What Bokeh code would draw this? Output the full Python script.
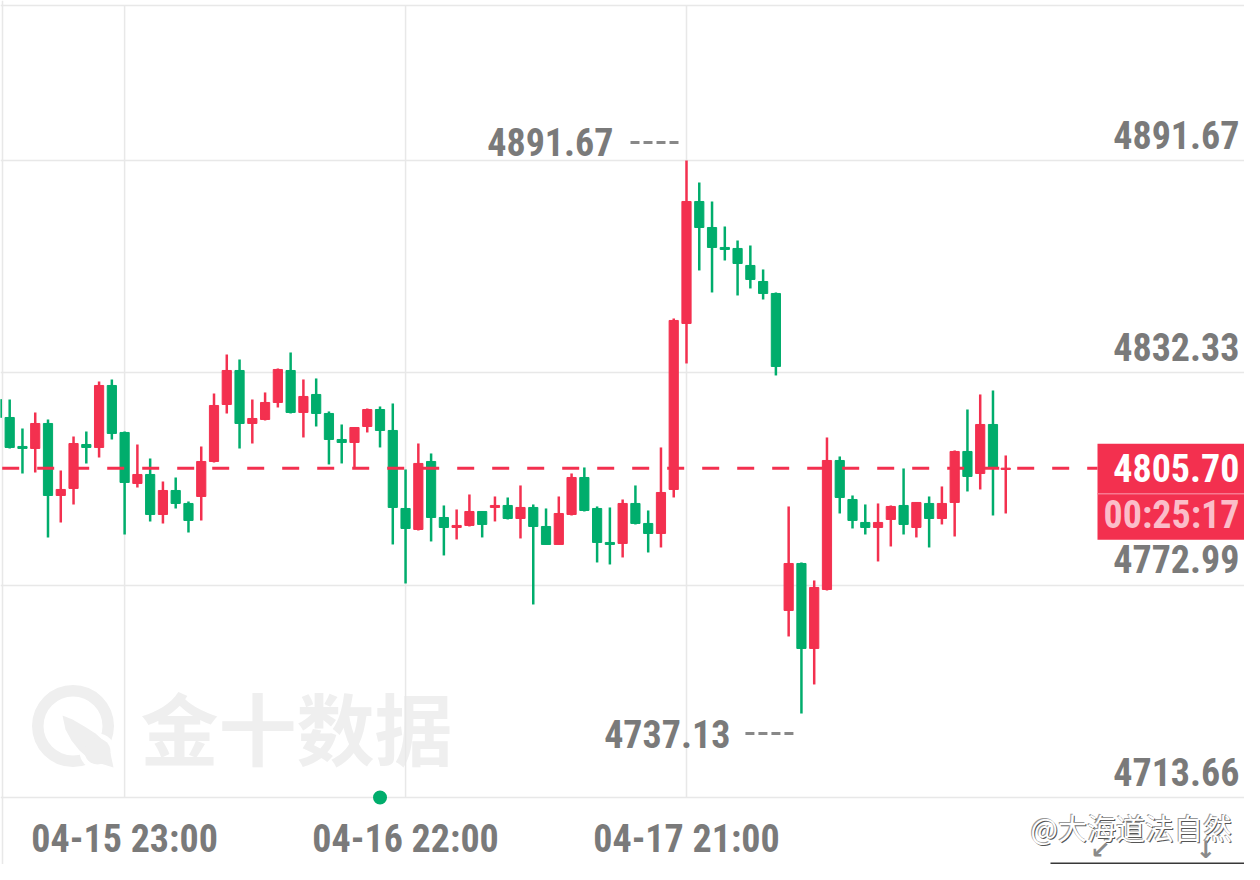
from bokeh.plotting import figure
from bokeh.models import ColumnDataSource
from bokeh.core.properties import value
from bokeh.embed import file_html
from bokeh.resources import INLINE

# ---------------- data (hourly candles, index -1 .. 78) ----------------
first_index = -1
opens = [4824.89, 4819.86, 4811.76, 4811.20, 4818.18, 4798.06, 4800.02, 4812.31, 4811.48, 4828.80,
         4815.67, 4801.42, 4803.93, 4792.75, 4799.46, 4795.83, 4797.78, 4807.56, 4823.49, 4832.99,
         4818.18, 4819.30, 4824.05, 4832.99, 4821.26, 4826.29, 4820.98, 4813.71, 4812.87, 4817.34,
         4822.09, 4816.23, 4794.43, 4788.56, 4807.56, 4791.91, 4789.12, 4789.68, 4793.59, 4794.71,
         4795.27, 4791.63, 4794.71, 4789.40, 4784.37, 4792.75, 4803.09, 4794.43, 4784.93, 4784.65,
         4795.83, 4790.24, 4787.44, 4799.74, 4846.13, 4880.22, 4872.95, 4867.37, 4867.09, 4862.34,
         4857.86, 4854.51, 4765.93, 4779.06, 4755.31, 4771.79, 4807.84, 4796.94, 4790.52, 4789.12,
         4791.36, 4795.27, 4789.12, 4795.83, 4791.63, 4796.11, 4810.36, 4804.21, 4817.90, 4805.33]
highs = [4826.01, 4824.89, 4816.79, 4821.26, 4819.30, 4805.05, 4814.55, 4815.95, 4829.92, 4830.48,
         4815.95, 4812.31, 4808.40, 4801.97, 4803.09, 4796.39, 4811.76, 4826.57, 4837.46, 4836.07,
         4824.89, 4826.85, 4833.55, 4838.02, 4830.48, 4830.76, 4821.54, 4817.90, 4817.20, 4822.37,
         4822.93, 4823.77, 4805.33, 4812.59, 4809.80, 4795.27, 4794.15, 4798.34, 4793.59, 4797.78,
         4797.50, 4800.86, 4795.55, 4794.43, 4797.78, 4804.21, 4805.89, 4794.99, 4794.71, 4796.94,
         4800.86, 4793.87, 4811.48, 4847.52, 4891.67, 4885.53, 4880.22, 4873.23, 4869.32, 4867.92,
         4861.22, 4854.79, 4794.99, 4779.34, 4774.31, 4814.27, 4808.96, 4798.06, 4795.55, 4795.83,
         4795.27, 4805.61, 4796.11, 4797.78, 4800.58, 4810.64, 4822.09, 4826.29, 4827.40, 4809.24]
lows = [4819.02, 4811.20, 4804.21, 4804.49, 4786.33, 4790.52, 4795.55, 4807.01, 4808.68, 4813.71,
        4787.16, 4800.30, 4790.80, 4790.24, 4794.43, 4787.72, 4791.08, 4807.29, 4820.98, 4811.20,
        4812.59, 4819.02, 4822.65, 4820.98, 4814.27, 4817.34, 4806.73, 4807.01, 4805.61, 4815.67,
        4811.48, 4784.37, 4773.47, 4788.28, 4785.21, 4781.30, 4785.77, 4789.40, 4786.33, 4790.80,
        4791.36, 4786.05, 4767.60, 4784.37, 4784.37, 4792.47, 4793.59, 4779.34, 4778.78, 4780.74,
        4789.96, 4782.13, 4783.53, 4797.50, 4834.95, 4860.94, 4854.79, 4863.73, 4853.95, 4855.91,
        4852.83, 4831.60, 4758.66, 4737.13, 4745.25, 4771.51, 4793.03, 4788.84, 4787.16, 4779.62,
        4783.81, 4787.16, 4786.33, 4783.53, 4789.96, 4786.60, 4799.18, 4799.74, 4792.47, 4793.03]
closes = [4819.86, 4811.48, 4811.20, 4818.18, 4798.06, 4799.74, 4812.59, 4811.48, 4828.80, 4815.39,
          4801.70, 4803.93, 4792.75, 4799.46, 4795.83, 4791.08, 4807.56, 4823.21, 4832.99, 4818.18,
          4819.58, 4824.05, 4833.27, 4821.26, 4825.73, 4820.98, 4813.71, 4812.87, 4817.06, 4822.09,
          4816.23, 4794.71, 4788.84, 4807.01, 4791.91, 4789.12, 4789.68, 4793.59, 4789.96, 4795.27,
          4791.63, 4794.71, 4789.40, 4784.37, 4793.03, 4803.09, 4793.87, 4784.93, 4784.37, 4795.83,
          4790.24, 4787.44, 4798.90, 4846.97, 4880.22, 4872.95, 4867.37, 4866.81, 4862.89, 4858.42,
          4854.51, 4834.11, 4779.06, 4755.31, 4772.35, 4807.84, 4797.50, 4791.08, 4789.12, 4790.52,
          4794.99, 4789.96, 4796.11, 4791.63, 4795.83, 4810.36, 4803.37, 4817.90, 4805.89, 4805.70]

y_ticks = [4713.66, 4772.99, 4832.33, 4891.67]
x_tick_index = [9, 31, 53]
x_tick_labels = ["04-15 23:00", "04-16 22:00", "04-17 21:00"]
last_price = 4805.70
countdown = "00:25:17"
session_marker_index = 29
watermark_text = "金十数据"
credit_text = "@大海道法自然"

# ---------------- styling ----------------
RED = "#f3304f"
GREEN = "#00ad6c"
GREY_TXT = "#7a7a7a"
GRID = "#e8e8e8"
FONT = "Roboto Condensed"
FSIZE = "38px"
BASE_FIX = -14        # empirical correction of the alphabetic baseline (px)

# calibration between reference pixels and data (layout only)
STEP = 12.77          # px per candle
X_ANCHOR_PX, X_ANCHOR_I = 686.0, 53
PPU = 0.27945         # price per px
Y_ANCHOR_PX, Y_ANCHOR_P = 160.0, y_ticks[-1]
W, H = 1244, 864

def px2x(px):
    return X_ANCHOR_I + (px - X_ANCHOR_PX) / STEP

def py2y(py):
    return Y_ANCHOR_P - (py - Y_ANCHOR_PX) * PPU

idx = list(range(first_index, first_index + len(opens)))
colors = [RED if c >= o else GREEN for o, c in zip(opens, closes)]
tops = [max(o, c) for o, c in zip(opens, closes)]
bottoms = [min(o, c) for o, c in zip(opens, closes)]
src = ColumnDataSource(dict(x=idx, open=opens, high=highs, low=lows, close=closes,
                            color=colors, top=tops, bottom=bottoms))

p = figure(width=W, height=H, x_range=(px2x(0), px2x(W)), y_range=(py2y(H), py2y(0)),
           min_border=0, toolbar_location=None, output_backend="svg",
           x_axis_location=None, y_axis_location=None, outline_line_color=None)
p.grid.visible = False
p.background_fill_color = "white"

def label(x, y, text, y_offset=0, **kw):
    opts = dict(text_font=value(FONT), text_font_style="bold", text_font_size=FSIZE,
                text_color=GREY_TXT, text_baseline="alphabetic")
    opts.update(kw)
    p.text(x=x, y=y, text=text, y_offset=y_offset + BASE_FIX, **opts)

# watermark
p.text(x=[px2x(140)], y=[py2y(725)], text=[watermark_text], text_baseline="middle", text_align="left",
       text_font=value("Noto Sans CJK SC"), text_font_style="bold", text_font_size="78px", text_color="#efefef")
p.annulus(x=[px2x(72.5)], y=[py2y(725.5)], inner_radius=29.5, outer_radius=41,
          inner_radius_units="screen", outer_radius_units="screen", fill_color="#efefef", line_color=None)
leaf = [(62, 715), (72, 719), (84, 726), (95, 733), (104, 741), (110, 753), (113, 767),
        (100, 763), (88, 758), (79, 750), (71, 740), (65, 729)]
p.scatter(x=[px2x(97)], y=[py2y(751)], size=36, fill_color="white", line_color=None)
p.patch(x=[px2x(a) for a, b in leaf], y=[py2y(b) for a, b in leaf], fill_color="#efefef", line_color=None)
p.scatter(x=[px2x(97)], y=[py2y(751)], size=26, fill_color="#efefef", line_color=None)

# frame and grid
p.hspan(y=[py2y(5)], line_color=GRID, line_width=1.5)
p.vspan(x=[px2x(2)], line_color=GRID, line_width=1.5)
p.hspan(y=y_ticks, line_color=GRID, line_width=1.5)
p.segment(x0=x_tick_index, y0=[y_ticks[0]] * 3, x1=x_tick_index, y1=[py2y(5)] * 3,
          line_color=GRID, line_width=1.5)

# candles
p.segment(x0="x", y0="low", x1="x", y1="high", line_color="color", line_width=2.5, source=src)
p.vbar(x="x", width=0.72, top="top", bottom="bottom", fill_color="color", line_color="color",
       line_width=1, source=src)

# last price dashed line
p.segment(x0=[px2x(1.7)], y0=[last_price], x1=[px2x(1097)], y1=[last_price],
          line_color=RED, line_width=3, line_dash="17 18")

# y labels
label([px2x(1239)] * len(y_ticks), y_ticks, [f"{v:.2f}" for v in y_ticks],
      text_align="right", y_offset=-12)
# x labels
label(x_tick_index, [y_ticks[0]] * 3, x_tick_labels, text_align="center", y_offset=55)

# high / low annotations
hi_i = max(range(len(highs)), key=lambda k: highs[k])
lo_i = min(range(len(lows)), key=lambda k: lows[k])
hx, hy = idx[hi_i], highs[hi_i]
lx, ly = idx[lo_i], lows[lo_i]
label([hx], [hy], [f"{hy:.2f}"], text_align="right", x_offset=-73, y_offset=-5)
label([lx], [ly], [f"{ly:.2f}"], text_align="right", x_offset=-71, y_offset=34)
p.segment(x0=[hx - 56 / STEP, lx - 56 / STEP], y0=[hy + 18 * PPU, ly - 20 * PPU],
          x1=[hx - 8 / STEP, lx - 8 / STEP], y1=[hy + 18 * PPU, ly - 20 * PPU],
          line_color="#888888", line_width=3, line_dash="9 4")

# session marker
p.scatter(x=[session_marker_index], y=[y_ticks[0]], size=14, fill_color=GREEN, line_color=None)

# last price box
p.quad(left=[px2x(1097)], right=[px2x(1258)], top=[last_price + 24.5 * PPU],
       bottom=[last_price - 71.5 * PPU], fill_color=RED, line_color=None)
p.segment(x0=[px2x(1097)], y0=[last_price - 25.5 * PPU], x1=[px2x(1258)], y1=[last_price - 25.5 * PPU],
          line_color="#f87890", line_width=1.5)
label([px2x(1239)], [last_price], [f"{last_price:.2f}"], text_align="right", y_offset=14,
      text_color="white")
label([px2x(1239)], [last_price], [countdown], text_align="right", y_offset=61,
      text_color="#fbbdc9")

# credit overlay
for dx, dy, col in [(1, 1, "#555555"), (-1, -1, "#999999"), (0, 0, "white")]:
    p.text(x=[px2x(1030)], y=[py2y(826)], text=[credit_text], x_offset=dx, y_offset=dy,
           text_align="left", text_baseline="middle", text_font=value("Noto Sans CJK SC"),
           text_font_size="29px", text_color=col)
p.text(x=[px2x(1100), px2x(1205)], y=[py2y(849)] * 2, text=["↙", "↓"], text_align="center",
       text_baseline="middle", text_font=value("DejaVu Sans"), text_font_style="bold",
       text_font_size="24px", text_color="#8a8a8a")
p.quad(left=[px2x(1050)], right=[px2x(1270)], top=[py2y(862)], bottom=[py2y(890)],
       fill_color="#383838", line_color=None)

open("out.html", "w").write(file_html(p, INLINE))
